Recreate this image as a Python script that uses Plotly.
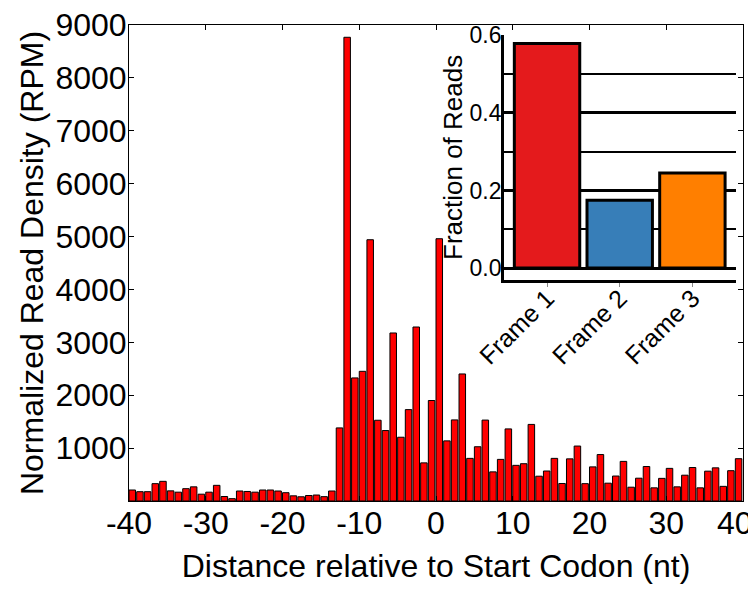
import plotly.graph_objects as go

# ---- data ----
positions = list(range(-40, 40))
density = [208, 176, 176, 328, 372, 192, 167, 233, 268, 129,
           167, 296, 85, 44, 189, 180, 167, 208, 208, 189,
           157, 98, 80, 104, 113, 82, 189, 1382, 8768, 2327,
           2452, 4940, 1527, 1332, 3177, 1206, 1728, 3290, 721, 1900,
           4959, 1137, 1533, 2402, 806, 1026, 1530, 551, 787, 1363,
           674, 705, 1448, 469, 567, 806, 331, 797, 1039, 328,
           645, 878, 337, 472, 749, 261, 431, 652, 249, 428,
           617, 268, 488, 633, 249, 564, 627, 277, 573, 800]
x_ticks = [-40, -30, -20, -10, 0, 10, 20, 30, 40]
x_ticktext = ["-40", "-30", "-20", "-10", "0", "10", "20", "30", ""]
last_x_label = "40"
y_ticks = [1000, 2000, 3000, 4000, 5000, 6000, 7000, 8000, 9000]

frames = ["Frame 1", "Frame 2", "Frame 3"]
fractions = [0.579, 0.175, 0.245]
frame_colors = ["#e41a1c", "#377eb8", "#ff7f00"]
inset_ticks = [0.0, 0.2, 0.4, 0.6]

FONT = "Liberation Sans, Arial, sans-serif"

fig = go.Figure()
fig.add_trace(go.Bar(
    x=positions, y=density, width=0.85, offset=0,
    marker=dict(color="#ff0000", line=dict(color="black", width=1)),
    xaxis="x", yaxis="y", showlegend=False))
fig.add_trace(go.Bar(
    x=frames, y=fractions, width=0.9,
    marker=dict(color=frame_colors, line=dict(color="black", width=3)),
    xaxis="x2", yaxis="y2", showlegend=False))

fig.update_layout(
    width=756, height=595,
    margin=dict(l=121, r=21, t=17, b=102, autoexpand=False),
    paper_bgcolor="white", plot_bgcolor="white",
    font=dict(family=FONT, color="black"),
    xaxis=dict(
        domain=[0, 1], anchor="y", range=[-40, 40],
        tickmode="array", tickvals=x_ticks, ticktext=x_ticktext,
        ticks="inside", ticklen=5, tickcolor="black", mirror="ticks",
        showline=True, linecolor="black", linewidth=1,
        showgrid=False, zeroline=False, ticklabelstandoff=-6,
        ticklabeloverflow="allow",
        tickfont=dict(size=32, family=FONT),
        title=dict(text="Distance relative to Start Codon (nt)",
                   font=dict(size=32, family=FONT), standoff=14)),
    yaxis=dict(
        domain=[0, 1], anchor="x", range=[0, 9000],
        tickmode="array", tickvals=y_ticks, ticktext=[str(v) for v in y_ticks],
        ticks="inside", ticklen=5, tickcolor="black", mirror="ticks",
        showline=True, linecolor="black", linewidth=1,
        showgrid=False, zeroline=False, ticklabelstandoff=-5,
        ticklabeloverflow="allow",
        tickfont=dict(size=32, family=FONT),
        title=dict(text="Normalized Read Density (RPM)",
                   font=dict(size=32, family=FONT), standoff=2)),
    xaxis2=dict(
        domain=[0.611, 0.9886], anchor="y2", range=[-0.59, 2.6],
        tickangle=-45, ticks="outside", ticklen=4, tickcolor="#888888",
        showline=True, linecolor="black", linewidth=3,
        showgrid=False, zeroline=False, ticklabelstandoff=-13,
        ticklabeloverflow="allow",
        tickfont=dict(size=25, family=FONT)),
    yaxis2=dict(
        domain=[0.4648, 0.979], anchor="x2", range=[-0.03, 0.601],
        tickmode="array", tickvals=inset_ticks,
        ticktext=["%.1f" % v for v in inset_ticks],
        ticks="",
        showline=True, linecolor="black", linewidth=3,
        showgrid=True, gridcolor="black", gridwidth=3,
        minor=dict(tickvals=[0.1, 0.3, 0.5], showgrid=True,
                   gridcolor="black", gridwidth=1.5, ticks=""),
        zeroline=False, ticklabeloverflow="allow", ticklabelstandoff=-5,
        tickfont=dict(size=23, family=FONT),
        title=dict(text="Fraction of Reads",
                   font=dict(size=26, family=FONT), standoff=0)),
    annotations=[dict(
        text=last_x_label, x=x_ticks[-1], xref="x", y=0, yref="paper",
        xanchor="center", yanchor="middle", xshift=-8, yshift=-22,
        showarrow=False, font=dict(size=32, family=FONT, color="black"))],
)

fig.write_html("out.html")
